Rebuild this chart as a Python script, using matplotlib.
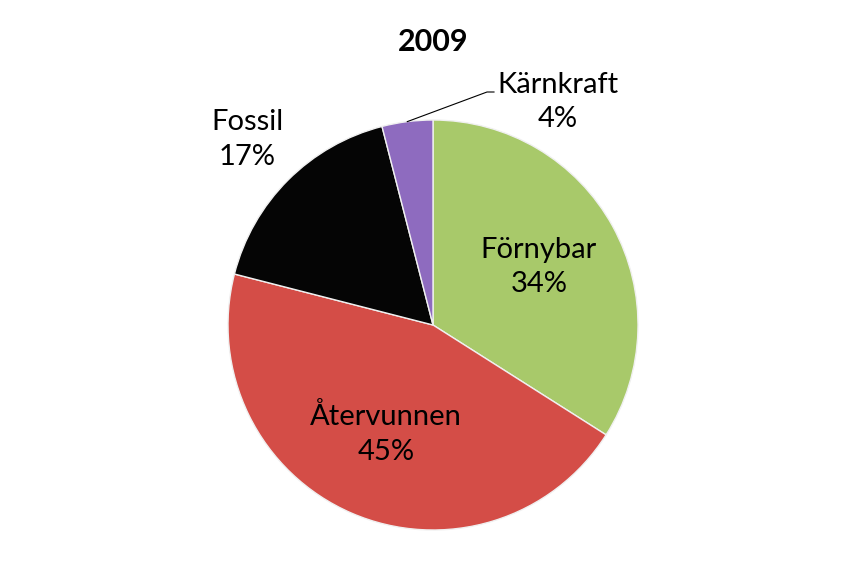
import numpy as np
import matplotlib.pyplot as plt

labels = ["Förnybar", "Återvunnen", "Fossil", "Kärnkraft"]
shares = [34, 45, 17, 4]
colors = ["#a8c96a", "#d44d47", "#050505", "#8e6bbf"]

plt.rcParams["font.family"] = ["Lato", "DejaVu Sans"]

fig = plt.figure(figsize=(8.67, 5.84), dpi=100)
ax = fig.add_axes([0, 0, 1, 1])

cx, cy, r = 433, 259, 205
wedges, _ = ax.pie(shares, colors=colors, startangle=90, counterclock=False,
                   center=(cx, cy), radius=r, frame=True,
                   wedgeprops=dict(edgecolor="#f0f0f0", linewidth=1))
ax.set_xlim(0, 867)
ax.set_ylim(0, 584)
ax.axis("off")

# label distance (fraction of radius) for each slice
dist = [0.59, 0.58, 1.28, None]
fs = 21
for w, lab, s, d in zip(wedges, labels, shares, dist):
    mid = np.deg2rad((w.theta1 + w.theta2) / 2)
    if d is None:
        # leader line for the small slice
        ex, ey = cx + r * np.cos(mid), cy + r * np.sin(mid)
        ax.plot([ex, 487, 494], [ey, 492, 492], color="black", lw=0.8)
        ax.text(558, 482, lab + "\n" + str(s) + "%", ha="center", va="center",
                fontsize=fs, linespacing=1.4)
        continue
    tx, ty = cx + d * r * np.cos(mid), cy + d * r * np.sin(mid)
    ax.text(tx, ty, lab + "\n" + str(s) + "%", ha="center", va="center",
            fontsize=fs, linespacing=1.4)

ax.text(433, 542, "2009", ha="center", va="center", fontsize=22, fontweight="bold")

fig.savefig("out.png", dpi=100)
